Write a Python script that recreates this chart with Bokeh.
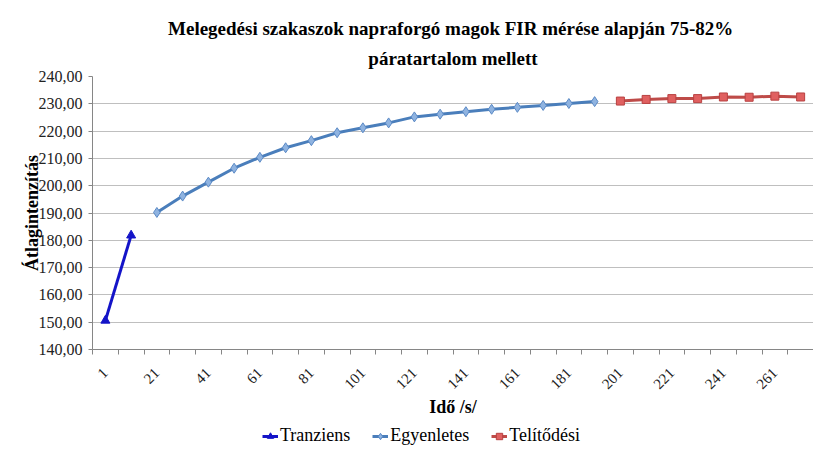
from bokeh.plotting import figure
from bokeh.models import (Range1d, FixedTicker, Legend, LegendItem, Title)
from bokeh.layouts import column
from bokeh.embed import file_html
from bokeh.resources import INLINE

# ---- data ----
title_line1 = "Melegedési szakaszok  napraforgó magok FIR mérése alapján 75-82%"
title_line2 = "páratartalom mellett"
x_title = "Idő /s/"
y_title = "Átlagintenzítás"

series_names = ["Tranziens", "Egyenletes", "Telítődési"]

tranziens_t = [1, 11]
tranziens_v = [150.6, 181.8]

egyenletes_t = [21, 31, 41, 51, 61, 71, 81, 91, 101, 111, 121, 131, 141, 151, 161, 171, 181, 191]
egyenletes_v = [190.2, 196.2, 201.3, 206.4, 210.4, 213.9, 216.5, 219.4, 221.2, 223.0,
                225.2, 226.2, 227.1, 228.0, 228.7, 229.4, 230.1, 230.8]

telitodesi_t = [201, 211, 221, 231, 241, 251, 261, 271]
telitodesi_v = [231.0, 231.6, 231.9, 231.9, 232.5, 232.4, 232.8, 232.5]

x_tick_values = [1, 21, 41, 61, 81, 101, 121, 141, 161, 181, 201, 221, 241, 261]
x_tick_labels = ["1", "21", "41", "61", "81", "101", "121", "141", "161", "181", "201", "221", "241", "261"]
y_tick_values = [140, 150, 160, 170, 180, 190, 200, 210, 220, 230, 240]
y_tick_labels = ["140,00", "150,00", "160,00", "170,00", "180,00", "190,00",
                 "200,00", "210,00", "220,00", "230,00", "240,00"]

FONT = "Liberation Serif"

styles = [
    dict(color="#1414c8", marker="triangle", size=9, fill="#1414c8", edge="#1414c8"),
    dict(color="#4a7ebb", marker="diamond", size=10, fill="#8fb3e0", edge="#5b8ac6"),
    dict(color="#be4b48", marker="square", size=8, fill="#e06060", edge="#b84040"),
]

all_t = tranziens_t + egyenletes_t + telitodesi_t
step = all_t[1] - all_t[0]
x_lo = all_t[0] - step / 2
x_hi = all_t[-1] + step / 2

p = figure(width=813, height=421, output_backend="svg", toolbar_location=None,
           x_range=Range1d(x_lo, x_hi), y_range=Range1d(140, 240),
           min_border_left=92, min_border_right=0, min_border_top=76, min_border_bottom=72)

p.outline_line_color = None
p.background_fill_color = "white"
p.border_fill_color = "white"

# titles (first added is closest to plot)
t2 = Title(text=title_line2, align="center", text_font=FONT, text_font_size="19px",
           text_font_style="bold", text_color="#000000", standoff=15)
t1 = Title(text=title_line1, align="center", text_font=FONT, text_font_size="19px",
           text_font_style="bold", text_color="#000000", standoff=0)
p.add_layout(t2, "above")
p.add_layout(t1, "above")

# grid
p.xgrid.grid_line_color = None
p.ygrid.grid_line_color = "#bfbfbf"
p.ygrid.grid_line_width = 1
p.ygrid.ticker = FixedTicker(ticks=y_tick_values)

# x axis
minor = [t - step / 2 for t in all_t] + [x_hi]
xa = p.xaxis[0]
xa.ticker = FixedTicker(ticks=x_tick_values, minor_ticks=minor)
xa.major_label_overrides = {v: l for v, l in zip(x_tick_values, x_tick_labels)}
xa.major_tick_line_color = None
xa.major_tick_out = 0
xa.major_tick_in = 0
xa.minor_tick_line_color = "#868686"
xa.minor_tick_out = 5
xa.minor_tick_in = 0
xa.axis_line_color = "#868686"
xa.major_label_orientation = 0.785398
xa.major_label_text_font = FONT
xa.major_label_text_font_size = "15px"
xa.major_label_text_color = "#222222"
xa.major_label_standoff = 16
xa.axis_label = x_title
xa.axis_label_text_font = FONT
xa.axis_label_text_font_size = "18px"
xa.axis_label_text_font_style = "bold"
xa.axis_label_text_color = "#000000"
xa.axis_label_standoff = 1

# y axis
ya = p.yaxis[0]
ya.ticker = FixedTicker(ticks=y_tick_values)
ya.major_label_overrides = {v: l for v, l in zip(y_tick_values, y_tick_labels)}
ya.minor_tick_line_color = None
ya.major_tick_line_color = "#868686"
ya.major_tick_out = 4
ya.major_tick_in = 0
ya.axis_line_color = "#868686"
ya.major_label_text_font = FONT
ya.major_label_text_font_size = "16px"
ya.major_label_text_color = "#222222"
ya.major_label_standoff = 6
ya.axis_label = y_title
ya.axis_label_text_font = FONT
ya.axis_label_text_font_size = "18px"
ya.axis_label_text_font_style = "bold"
ya.axis_label_text_color = "#000000"
ya.axis_label_standoff = -6

# series
series = [(tranziens_t, tranziens_v), (egyenletes_t, egyenletes_v), (telitodesi_t, telitodesi_v)]
for (xs, ys), st in zip(series, styles):
    p.line(xs, ys, line_color=st["color"], line_width=3)
    p.scatter(xs, ys, marker=st["marker"], size=st["size"],
              fill_color=st["fill"], line_color=st["edge"], line_width=1)

# legend strip (separate figure below the chart; same series, outside its view range)
lf = figure(width=813, height=30, output_backend="svg", toolbar_location=None,
            x_range=Range1d(0, 1), y_range=Range1d(0, 1),
            min_border_left=0, min_border_right=0, min_border_top=0, min_border_bottom=0)
lf.axis.visible = False
lf.grid.visible = False
lf.outline_line_color = None
lf.border_fill_color = "white"
items = []
for name, (xs, ys), st in zip(series_names, series, styles):
    lr = lf.line(xs, ys, line_color=st["color"], line_width=3)
    sr = lf.scatter(xs, ys, marker=st["marker"], size=st["size"] - 1,
                    fill_color=st["fill"], line_color=st["edge"], line_width=1)
    items.append(LegendItem(label=name, renderers=[lr, sr]))
legend = Legend(items=items, orientation="horizontal", location=(170, 5),
                label_text_font=FONT, label_text_font_size="18px", label_text_color="#000000",
                glyph_width=16, glyph_height=16, label_height=20, spacing=22, label_standoff=2,
                border_line_color=None, background_fill_alpha=0, padding=0, margin=0)
lf.add_layout(legend)

layout = column(p, lf, spacing=0)
open("out.html", "w").write(file_html(layout, INLINE))
